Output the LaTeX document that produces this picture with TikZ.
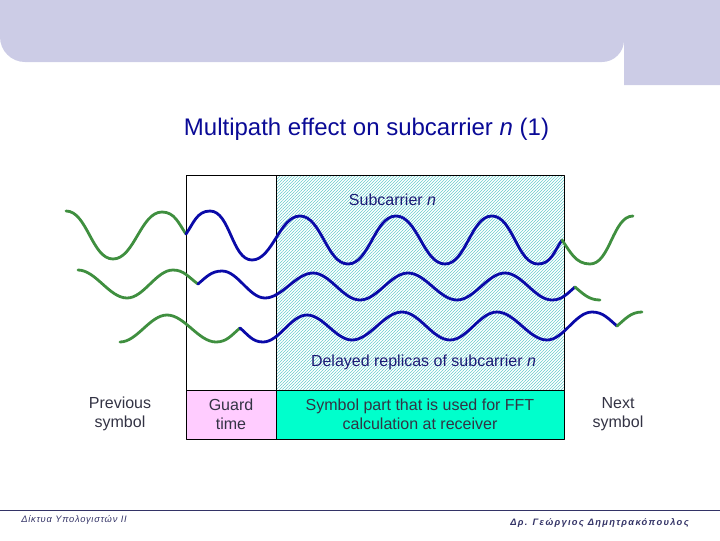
\documentclass[tikz,border=0pt]{standalone}
\usepackage{fontspec}
\setmainfont{Liberation Sans}
\usepackage{tikz}
\usetikzlibrary{patterns.meta}
\definecolor{banner_color}{HTML}{CCCCE6}
\definecolor{hatch_color}{HTML}{66CCCC}
\definecolor{guard_color}{HTML}{FFCCFF}
\definecolor{fft_color}{HTML}{00FFCC}
\definecolor{green_color}{HTML}{3F8F3F}
\definecolor{blue_color}{HTML}{0A0AA8}
\definecolor{title_color}{HTML}{0A0A96}
\definecolor{label_color}{HTML}{333344}
\definecolor{rule_color}{HTML}{333366}

\begin{document}
\begin{tikzpicture}[x=0.75pt, y=-0.75pt, line join=round,
        box_style/.style={draw=black, line width=0.75pt},
        green_wave_style/.style={draw=green_color, line width=2.1pt, line cap=round},
        blue_wave_style/.style={draw=blue_color, line width=2.1pt, line cap=round},
        swing/.style={out=0, in=180, looseness=0.8},
        label_style/.style={text=label_color, font=\fontsize{12pt}{14.4pt}\selectfont, align=center},
        inner_label_style/.style={label_style, text=title_color!60!label_color}]

        \useasboundingbox (0,0) rectangle (720,540);

        % header
        \fill [banner_color] (0,0) -- (720,0) -- (720,85) -- (624,85) -- (624,40)
            arc [start angle=0, end angle=90, radius=22] -- (25,62)
            arc [start angle=90, end angle=180, radius=25] -- cycle;

        \node (title) at (366.5,129) [text=title_color, font=\fontsize{18pt}{20pt}\selectfont] {Multipath effect on subcarrier \textit{n} (1)};

        % shaded part and boxes
        \fill [pattern={Lines[angle=45, distance=1.591pt, line width=0.5pt]}, pattern color=hatch_color] (276,175) rectangle (564,390);
        \draw [box_style] (186,175) rectangle (564,390);
        \draw [box_style] (276,175) -- (276,390);
        \draw [box_style, fill=guard_color] (186,390) rectangle (276,439);
        \draw [box_style, fill=fft_color] (276,390) rectangle (564,439);

        % top wave
        \draw [green_wave_style] (66,211) to [swing] (113,259) to [swing] (162,212) to [out=0, in=125] (186,234);
        \draw [blue_wave_style] (186,234) to [out=55, in=180] (210,211) to [swing] (252,260) to [swing] (300,216) to [swing] (348,264) to [swing] (396,216) to [swing] (445,264) to [swing] (492,216) to [swing] (538,264) to [out=0, in=-125] (562,240);
        \draw [green_wave_style] (562,240) to [out=-55, in=180] (590,264) to [swing] (633,216);

        % middle wave
        \draw [green_wave_style] (78,270) to [swing] (127,298) to [swing] (173,270) to [out=0, in=145] (198,284);
        \draw [blue_wave_style] (198,284) to [out=40, in=180] (222,271) to [swing] (265,298) to [swing] (313,273) to [swing] (360,300) to [swing] (408,273) to [swing] (457,300) to [swing] (505,273) to [swing] (552,300) to [out=0, in=-140] (575,287);
        \draw [green_wave_style] (575,287) to [out=-40, in=180] (600,300);

        % bottom wave
        \draw [green_wave_style] (120,342) to [swing] (167,315) to [swing] (216,342) to [out=0, in=-140] (240,328);
        \draw [blue_wave_style] (240,328) to [out=-40, in=180] (263,342) to [swing] (307,315) to [swing] (352,340) to [swing] (402,312) to [swing] (450,340) to [swing] (497,312) to [swing] (547,340) to [swing] (592,312) to [out=0, in=140] (617,326);
        \draw [green_wave_style] (617,326) to [out=40, in=180] (642,312);

        % labels
        \node [inner_label_style] (subcarrier) at (392.5,200) {Subcarrier \textit{n}};
        \node [inner_label_style] (replicas) at (423.5,362) {Delayed replicas of subcarrier \textit{n}};
        \node [label_style] (previous) at (120,414) {Previous\\symbol};
        \node [label_style] (guard) at (231,414) {Guard\\time};
        \node [label_style] (fft) at (420,414) {Symbol part that is used for FFT\\calculation at receiver};
        \node [label_style] (next) at (618,414) {Next\\symbol};

        % footer
        \draw [draw=rule_color, line width=0.75pt] (0,510) -- (720,510);
        \node [text=rule_color, inner sep=0pt, font=\fontsize{7pt}{8pt}\itshape\addfontfeature{LetterSpace=8}\selectfont, anchor=west] (course) at (21,520) {Δίκτυα Υπολογιστών ΙΙ};
        \node [text=rule_color, inner sep=0pt, font=\fontsize{7pt}{8pt}\bfseries\itshape\addfontfeature{LetterSpace=14}\selectfont, anchor=east] (lecturer) at (689,523) {Δρ. Γεώργιος Δημητρακόπουλος};
\end{tikzpicture}
\end{document}
